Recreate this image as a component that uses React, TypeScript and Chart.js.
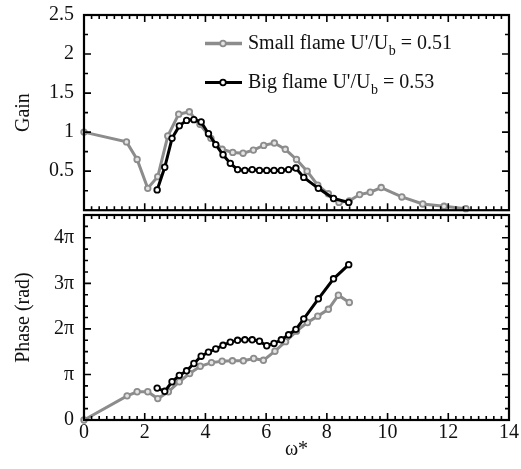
import { useEffect, useRef } from 'react';
import { Chart, registerables } from 'chart.js';

Chart.register(...registerables);

const FONT = "'Liberation Serif', 'Times New Roman', serif";
const GRAY = '#8c8c8c';

// ---- data ----
const xTickLabels = ['0', '2', '4', '6', '8', '10', '12', '14'];
const gainTickLabels = ['', '0.5', '1', '1.5', '2', '2.5'];
const phaseTickLabels = ['0', 'π', '2π', '3π', '4π'];

const smallGainX = [0, 1.40, 1.75, 2.10, 2.43, 2.76, 3.12, 3.47, 3.82, 4.18, 4.55, 4.90, 5.24, 5.58, 5.92, 6.27, 6.63, 7.00, 7.35, 7.70, 8.05, 8.40, 8.74, 9.08, 9.43, 9.79, 10.47, 11.16, 11.86, 12.58];
const smallGain = [1.00, 0.875, 0.65, 0.28, 0.43, 0.95, 1.23, 1.26, 1.10, 0.92, 0.78, 0.74, 0.73, 0.77, 0.83, 0.86, 0.78, 0.65, 0.50, 0.32, 0.21, 0.10, 0.12, 0.20, 0.23, 0.29, 0.17, 0.08, 0.05, 0.02];

const smallPhaseX = [0, 1.42, 1.75, 2.10, 2.43, 2.78, 3.14, 3.48, 3.83, 4.20, 4.55, 4.89, 5.25, 5.59, 5.91, 6.29, 6.64, 7.00, 7.36, 7.70, 8.05, 8.38, 8.74];
// phase in units of π
const smallPhase = [0, 0.53, 0.62, 0.62, 0.47, 0.62, 0.84, 1.02, 1.18, 1.26, 1.29, 1.30, 1.30, 1.35, 1.31, 1.51, 1.72, 1.95, 2.14, 2.28, 2.43, 2.74, 2.58];

const bigX = [2.41, 2.66, 2.90, 3.14, 3.38, 3.62, 3.86, 4.10, 4.34, 4.58, 4.82, 5.06, 5.30, 5.54, 5.78, 6.02, 6.26, 6.50, 6.74, 6.98, 7.24, 7.72, 8.22, 8.72];
const bigGain = [0.26, 0.55, 0.92, 1.08, 1.15, 1.16, 1.13, 0.98, 0.84, 0.71, 0.60, 0.52, 0.51, 0.52, 0.51, 0.51, 0.51, 0.51, 0.52, 0.54, 0.42, 0.28, 0.15, 0.10];
const bigPhase = [0.70, 0.63, 0.84, 0.98, 1.08, 1.24, 1.40, 1.49, 1.56, 1.64, 1.71, 1.75, 1.76, 1.76, 1.73, 1.63, 1.68, 1.76, 1.87, 1.99, 2.22, 2.66, 3.10, 3.41];

const legendMain = ["Small flame U'/U", "Big flame U'/U"];
const legendSub = ['b', 'b'];
const legendTail = [' = 0.51', ' = 0.53'];

const pts = (xs: number[], ys: number[]) => xs.map((x, i) => ({ x, y: ys[i] }));

const boxTicks = {
  id: 'boxTicks',
  afterDraw(chart: any, _a: any, opts: any) {
    const { ctx, chartArea } = chart;
    const { left, right, top, bottom } = chartArea;
    const xs = chart.scales.x;
    const ys = chart.scales.y;
    ctx.save();
    ctx.strokeStyle = '#000';
    ctx.lineWidth = 1.6;
    const isMajor = (v: number, m: number) => Math.abs(v / m - Math.round(v / m)) < 1e-6;
    ctx.beginPath();
    for (let i = 0; ; i++) {
      const v = xs.min + i * opts.xMinor;
      if (v > xs.max + 1e-9) break;
      const p = xs.getPixelForValue(v);
      const len = isMajor(v, opts.xMajor) ? 7 : 4;
      ctx.moveTo(p, bottom); ctx.lineTo(p, bottom - len);
      ctx.moveTo(p, top); ctx.lineTo(p, top + len);
    }
    for (let i = 0; ; i++) {
      const v = ys.min + i * opts.yMinor;
      if (v > ys.max + 1e-9) break;
      const p = ys.getPixelForValue(v);
      const len = isMajor(v, opts.yMajor) ? 7 : 4;
      ctx.moveTo(left, p); ctx.lineTo(left + len, p);
      ctx.moveTo(right, p); ctx.lineTo(right - len, p);
    }
    ctx.stroke();
    ctx.lineWidth = 2.2;
    ctx.strokeRect(left, top, right - left, bottom - top);
    ctx.restore();
  },
};

const legendPlugin = {
  id: 'legendCustom',
  afterDraw(chart: any) {
    const ctx = chart.ctx;
    const styles = [
      { color: GRAY, lw: 3.5, fill: '#e4e4e4', y: 43.5 },
      { color: '#000', lw: 3, fill: '#fff', y: 82.5 },
    ];
    ctx.save();
    styles.forEach((s, i) => {
      ctx.strokeStyle = s.color;
      ctx.lineWidth = s.lw;
      ctx.beginPath();
      ctx.moveTo(205, s.y); ctx.lineTo(242, s.y);
      ctx.stroke();
      ctx.beginPath();
      ctx.arc(223, s.y, 2.8, 0, Math.PI * 2);
      ctx.fillStyle = s.fill;
      ctx.fill();
      ctx.lineWidth = 1.8;
      ctx.stroke();
      ctx.fillStyle = '#111';
      ctx.textBaseline = 'alphabetic';
      ctx.textAlign = 'left';
      const base = s.y + 5.5;
      let x = 248;
      ctx.font = `20px ${FONT}`;
      ctx.fillText(legendMain[i], x, base);
      x += ctx.measureText(legendMain[i]).width;
      ctx.font = `14px ${FONT}`;
      ctx.fillText(legendSub[i], x + 0.5, base + 6);
      x += ctx.measureText(legendSub[i]).width + 0.5;
      ctx.font = `20px ${FONT}`;
      ctx.fillText(legendTail[i], x, base);
    });
    ctx.restore();
  },
};

const smallStyle = {
  borderColor: GRAY,
  borderWidth: 3,
  pointRadius: 2.8,
  pointBorderWidth: 1.8,
  pointBorderColor: GRAY,
  pointBackgroundColor: '#e4e4e4',
  clip: false as any,
  order: 2,
};
const bigStyle = {
  borderColor: '#000',
  borderWidth: 3,
  pointRadius: 2.8,
  pointBorderWidth: 1.8,
  pointBorderColor: '#000',
  pointBackgroundColor: '#fff',
  clip: false as any,
  order: 1,
};

const tickFont = { family: FONT, size: 20 };
const titleFont = { family: FONT, size: 20 };

const fixV = (s: any) => { s.width = 84; s.paddingTop = 0; s.paddingBottom = 0; };

export default function App() {
  const gainRef = useRef<HTMLCanvasElement>(null);
  const phaseRef = useRef<HTMLCanvasElement>(null);

  useEffect(() => {
    const gain = new Chart(gainRef.current!, {
      type: 'line',
      data: {
        datasets: [
          { label: 'Big flame', data: pts(bigX, bigGain), ...bigStyle },
          { label: 'Small flame', data: pts(smallGainX, smallGain), ...smallStyle },
        ],
      },
      options: {
        responsive: false,
        animation: false,
        layout: { padding: { top: 15, right: 12, bottom: 1, left: 0 } },
        plugins: { legend: { display: false }, tooltip: { enabled: false }, boxTicks: { xMinor: 0.25, xMajor: 2, yMinor: 0.25, yMajor: 0.5 } } as any,
        scales: {
          x: { type: 'linear', min: 0, max: 14, display: false },
          y: {
            type: 'linear', min: 0, max: 2.5,
            afterFit: fixV,
            grid: { display: false, drawTicks: false },
            border: { display: false },
            ticks: {
              stepSize: 0.5, padding: 10, color: '#111', font: tickFont, autoSkip: false,
              callback: (_v: any, i: number) => gainTickLabels[i] ?? '',
            },
            title: { display: true, text: 'Gain', color: '#111', font: titleFont, padding: { top: 12, bottom: 0 } },
          },
        },
      },
      plugins: [boxTicks, legendPlugin],
    });

    const phase = new Chart(phaseRef.current!, {
      type: 'line',
      data: {
        datasets: [
          { label: 'Big flame', data: pts(bigX, bigPhase), ...bigStyle },
          { label: 'Small flame', data: pts(smallPhaseX, smallPhase), ...smallStyle },
        ],
      },
      options: {
        responsive: false,
        animation: false,
        layout: { padding: { top: 10, right: 12, bottom: 0, left: 0 } },
        plugins: { legend: { display: false }, tooltip: { enabled: false }, boxTicks: { xMinor: 0.25, xMajor: 2, yMinor: 0.25, yMajor: 1 } } as any,
        scales: {
          x: {
            type: 'linear', min: 0, max: 14,
            afterFit: (s: any) => { s.height = 49; s.paddingLeft = 0; s.paddingRight = 0; },
            grid: { display: false, drawTicks: false },
            border: { display: false },
            ticks: {
              stepSize: 2, padding: 1, color: '#111', font: tickFont, maxRotation: 0, autoSkip: false,
              callback: (_v: any, i: number) => xTickLabels[i] ?? '',
            },
            title: { display: true, text: 'ω*', color: '#111', font: titleFont, padding: { top: 0, bottom: 7 } },
          },
          y: {
            type: 'linear', min: 0, max: 4.5,
            afterFit: fixV,
            grid: { display: false, drawTicks: false },
            border: { display: false },
            ticks: {
              stepSize: 1, padding: 10, color: '#111', font: tickFont, autoSkip: false,
              callback: (v: any, i: number) => (Math.abs(v - Math.round(v)) < 1e-6 ? phaseTickLabels[i] ?? '' : ''),
            },
            title: { display: true, text: 'Phase (rad)', color: '#111', font: titleFont, padding: { top: 12, bottom: 0 } },
          },
        },
      },
      plugins: [boxTicks],
    });

    return () => {
      gain.destroy();
      phase.destroy();
    };
  }, []);

  return (
    <div style={{ position: 'absolute', left: 0, top: 0, width: 521, height: 469, background: '#fff' }}>
      <canvas ref={gainRef} width={521} height={216} style={{ position: 'absolute', left: 0, top: 0, width: 521, height: 216 }} />
      <canvas ref={phaseRef} width={521} height={264} style={{ position: 'absolute', left: 0, top: 205, width: 521, height: 264 }} />
    </div>
  );
}
